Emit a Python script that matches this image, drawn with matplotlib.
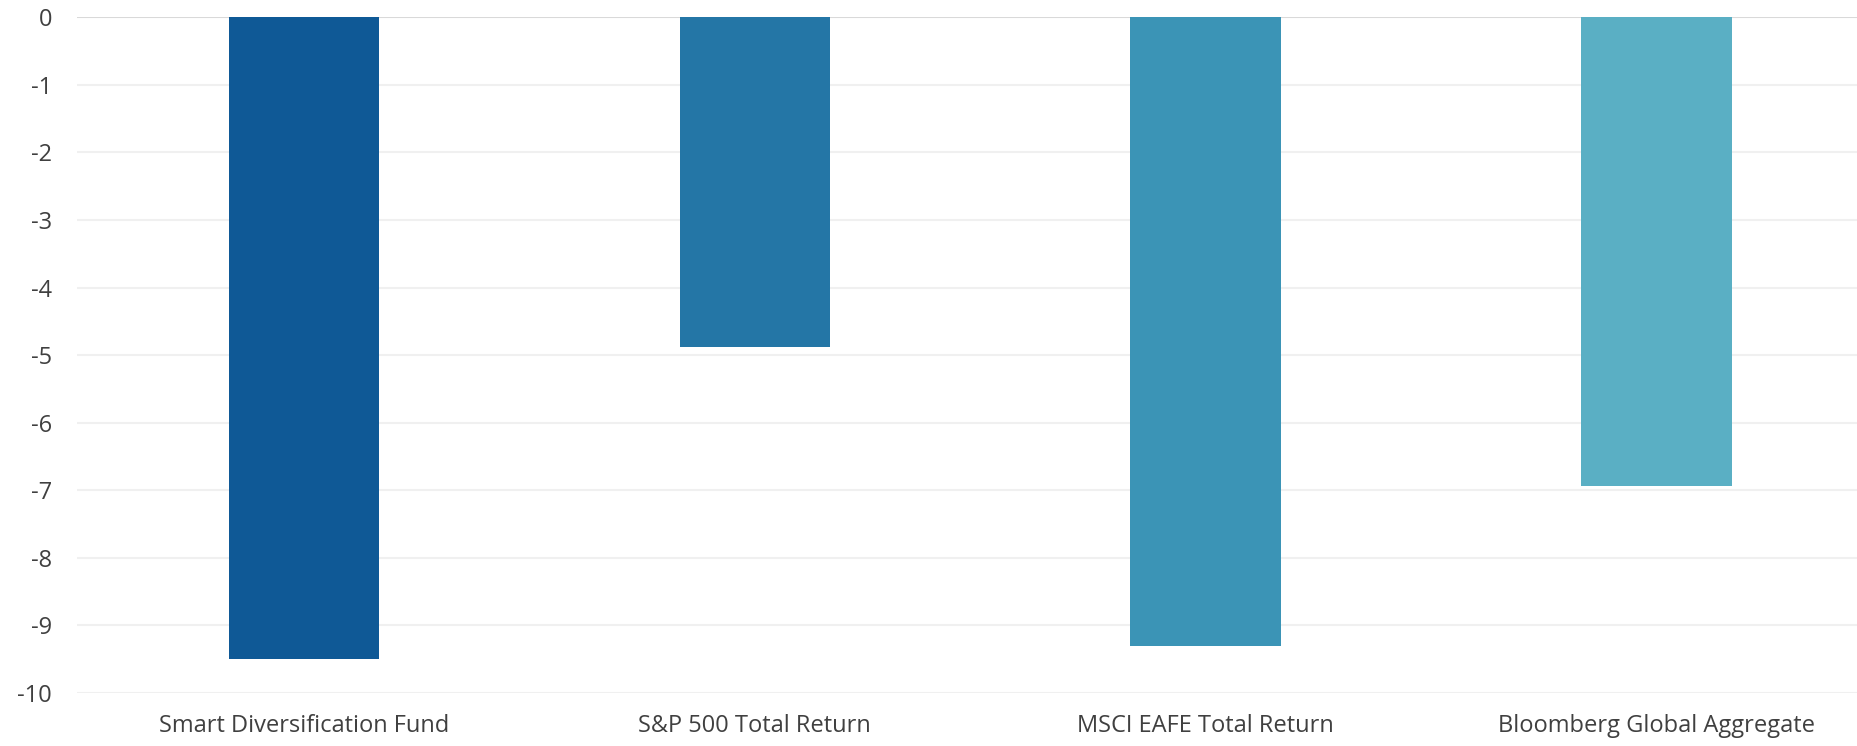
import matplotlib
matplotlib.use("Agg")
import matplotlib.pyplot as plt

categories = ["Smart Diversification Fund", "S&P 500 Total Return",
              "MSCI EAFE Total Return", "Bloomberg Global Aggregate"]
values = [-9.5, -4.88, -9.31, -6.94]
colors = ["#0F5996", "#2476A6", "#3B94B6", "#5AAFC4"]
yticks = list(range(0, -11, -1))

plt.rcParams['font.family'] = ['Open Sans', 'DejaVu Sans']

fig = plt.figure(figsize=(18.58, 7.46), dpi=100)
ax = fig.add_axes([0.0414, 0.071, 0.9586, 0.906])

x = range(len(categories))
ax.bar(x, values, width=0.333, color=colors, zorder=3)

ax.set_ylim(-10, 0)
ax.set_xlim(-0.503, 3.447)
ax.set_yticks(yticks)
ax.set_yticklabels([str(t) for t in yticks])
ax.set_xticks(list(x))
ax.set_xticklabels(categories)

for t in yticks:
    c = "#d9d9d9" if t == 0 else "#f0f0f0"
    ax.axhline(t, color=c, linewidth=1.5, zorder=1)

for s in ax.spines.values():
    s.set_visible(False)
ax.tick_params(axis='both', length=0, labelsize=17, colors="#404040")
ax.tick_params(axis='y', pad=18)
ax.tick_params(axis='x', pad=15)

fig.savefig("out.png", dpi=100)
